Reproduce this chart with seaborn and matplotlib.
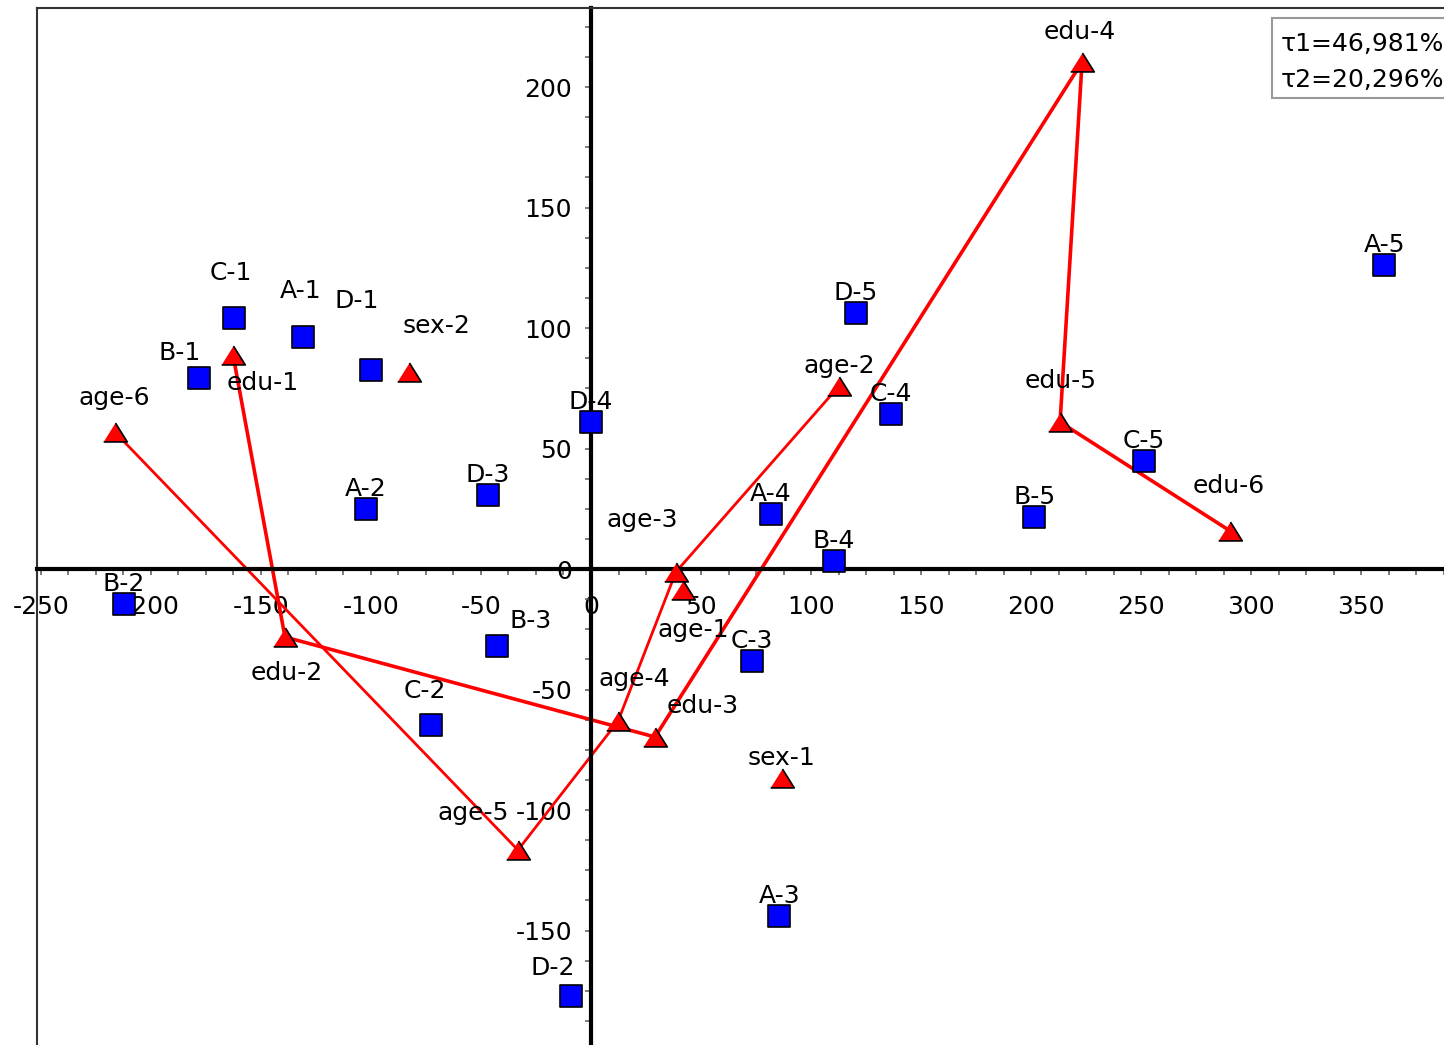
import numpy as np
import pandas as pd
import matplotlib
matplotlib.use('Agg')
import matplotlib.pyplot as plt
from matplotlib.ticker import MultipleLocator
from matplotlib.patches import Rectangle
import seaborn as sns

sns.set_style('white')
plt.rcParams['font.family'] = ['DejaVu Sans']
plt.rcParams['text.color'] = 'black'

# 열 포인트 (파란 사각형)
sq_names = ['A-1', 'B-1', 'C-1', 'D-1', 'A-2', 'B-2', 'C-2', 'D-2', 'A-3', 'B-3',
            'C-3', 'D-3', 'A-4', 'B-4', 'C-4', 'D-4', 'A-5', 'B-5', 'C-5', 'D-5']
sq_x = [-130.9, -178.2, -162.3, -100.0, -102.3, -212.3, -72.7, -9.1, 85.5, -42.7,
        73.2, -46.8, 81.8, 110.5, 136.4, 0.0, 360.5, 201.4, 251.4, 120.5]
sq_y = [96.3, 79.3, 104.1, 82.6, 24.9, -14.5, -64.7, -177.2, -144.0, -32.0,
        -38.2, 30.7, 22.8, 3.3, 64.3, 61.0, 126.1, 21.6, 44.8, 106.2]

# 행 포인트 (빨간 삼각형)
tri_names = ['sex-1', 'sex-2', 'age-1', 'age-2', 'age-3', 'age-4', 'age-5', 'age-6',
             'edu-1', 'edu-2', 'edu-3', 'edu-4', 'edu-5', 'edu-6']
tri_x = [86.8, -82.7, 41.8, 112.7, 38.6, 12.3, -33.2, -216.4,
         -162.7, -139.1, 29.1, 223.2, 213.2, 290.5]
tri_y = [-86.7, 81.7, -8.7, 75.9, -1.2, -63.1, -116.6, 56.8,
         88.8, -28.2, -69.7, 210.4, 61.0, 15.8]

# 연결선 순서
age_path = ['age-2', 'age-3', 'age-4', 'age-5', 'age-6']
edu_path = ['edu-1', 'edu-2', 'edu-3', 'edu-4', 'edu-5', 'edu-6']

inertia = ['τ1=46,981%', 'τ2=20,296%']

sq_df = pd.DataFrame({'name': sq_names, 'x': sq_x, 'y': sq_y})
tri_df = pd.DataFrame({'name': tri_names, 'x': tri_x, 'y': tri_y}).set_index('name')

# 라벨 위치 (픽셀 오프셋)
label_off = {
    'C-1': (-3, 45), 'A-1': (-2, 46), 'D-1': (-14, 69), 'B-1': (-19, 25),
    'B-3': (34, 25), 'C-2': (-6, 34), 'D-2': (-18, 28),
    'sex-2': (28, 46), 'edu-1': (30, -28), 'age-6': (-1, 34), 'edu-2': (2, -36),
    'age-5': (-45, 37), 'age-4': (16, 42), 'edu-3': (48, 31), 'age-3': (-34, 52),
    'age-1': (10, -40), 'edu-4': (-2, 30), 'edu-5': (1, 41), 'edu-6': (-1, 45),
}

fig = plt.figure(figsize=(14.44, 10.45), dpi=100)
ax = fig.add_axes([37 / 1444, 0, 1 - 37 / 1444, 1 - 8 / 1045])

for path, lw in [(edu_path, 2.6), (age_path, 2.0)]:
    seg = tri_df.loc[path]
    sns.lineplot(x=seg['x'].values, y=seg['y'].values, sort=False, estimator=None,
                 color='#ff0000', linewidth=lw, ax=ax, zorder=2)

sns.scatterplot(data=sq_df, x='x', y='y', marker='s', s=16.5 ** 2, color='#0000ff',
                edgecolor='black', linewidth=1.2, ax=ax, zorder=4)
tri_marker = [(-1, -0.8), (1, -0.8), (0, 0.8)]
sns.scatterplot(data=tri_df.reset_index(), x='x', y='y', marker=tri_marker, s=17 ** 2,
                color='#ff0000', edgecolor='black', linewidth=1.2, ax=ax, zorder=4)

for df in [sq_df, tri_df.reset_index()]:
    for _, r in df.iterrows():
        dx, dy = label_off.get(r['name'], (0, 20))
        ax.annotate(r['name'], (r['x'], r['y']), xytext=(dx, dy),
                    textcoords='offset pixels', ha='center', va='center',
                    fontsize=18, color='black', zorder=3)

ax.set_xlabel('')
ax.set_ylabel('')

# 원점을 지나는 축
ax.spines['left'].set_position('zero')
ax.spines['bottom'].set_position('zero')
for s in ['left', 'bottom']:
    ax.spines[s].set_linewidth(3)
    ax.spines[s].set_color('black')
ax.spines['right'].set_position(('axes', 0))
ax.spines['right'].set_color('#333333')
ax.spines['right'].set_linewidth(1.5)
ax.spines['top'].set_color('#333333')
ax.spines['top'].set_linewidth(1.5)

ax.xaxis.set_minor_locator(MultipleLocator(12.5))
ax.yaxis.set_minor_locator(MultipleLocator(12.5))
ax.xaxis.set_ticks_position('bottom')
ax.yaxis.set_ticks_position('left')
ax.tick_params(axis='both', which='both', direction='out', length=4.5, width=1.2,
               color='#666666', labelsize=18, labelcolor='black')
ax.tick_params(axis='x', which='major', pad=14)
ax.tick_params(axis='y', which='major', pad=9)
ax.set_xticks(np.arange(-250, 351, 50))
ax.set_xticklabels([f'{v:d}' for v in np.arange(-250, 351, 50)])
ax.set_yticks(np.arange(-150, 201, 50))
ax.set_yticklabels([f'{v:d}' for v in np.arange(-150, 201, 50)])
ax.set_xlim(-251.8, 387.7)
ax.set_ylim(-197.5, 232.8)

# 관성 비율 상자
fig.patches.append(Rectangle((1272 / 1444, (1045 - 98) / 1045), 0.2, 80 / 1045,
                             transform=fig.transFigure, facecolor='white',
                             edgecolor='#999999', linewidth=1.5, zorder=5))
for i, t in enumerate(inertia):
    fig.text(1281 / 1444, 1 - (44 + 36 * i) / 1045, t, fontsize=18, ha='left',
             va='center', color='black', zorder=6)

fig.savefig('out.png', dpi=100)
